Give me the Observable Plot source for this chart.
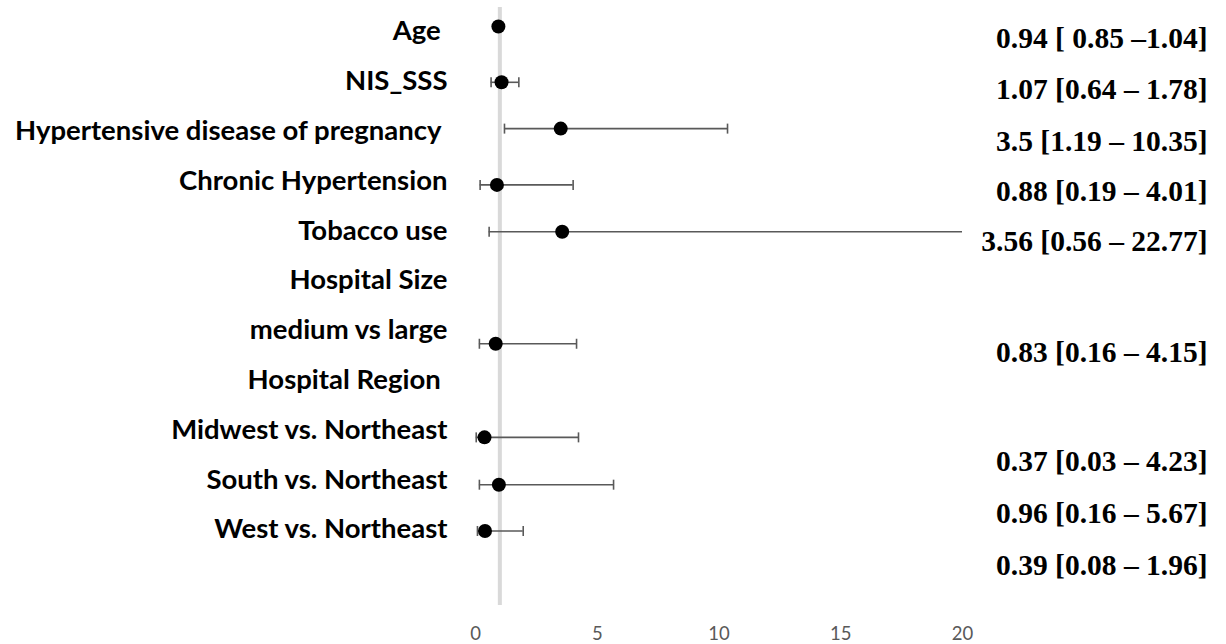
<!DOCTYPE html>
<html>
<head>
<meta charset="utf-8">
<script src="https://cdn.jsdelivr.net/npm/d3@7"></script>
<script src="https://cdn.jsdelivr.net/npm/@observablehq/plot@0.6"></script>
<style>
  html, body { margin: 0; padding: 0; background: #ffffff; }
  #chart { width: 1226px; height: 644px; }
</style>
</head>
<body>
<div id="chart"></div>
<script>
// Row labels (left side), top to bottom
const rowLabels = [
  "Age\u00a0",
  "NIS_SSS",
  "Hypertensive disease of pregnancy\u00a0",
  "Chronic Hypertension",
  "Tobacco use",
  "Hospital Size",
  "medium vs large",
  "Hospital Region\u00a0",
  "Midwest vs. Northeast",
  "South vs. Northeast",
  "West vs. Northeast"
];

// Odds ratios and 95% CI
const pointNames = ["Age", "NIS_SSS", "Hypertensive disease of pregnancy", "Chronic Hypertension",
  "Tobacco use", "medium vs large", "Midwest vs. Northeast", "South vs. Northeast", "West vs. Northeast"];
const oddsRatio = [0.94, 1.07, 3.5, 0.88, 3.56, 0.83, 0.37, 0.96, 0.39];
const ciLower   = [0.85, 0.64, 1.19, 0.19, 0.56, 0.16, 0.03, 0.16, 0.08];
const ciUpper   = [1.04, 1.78, 10.35, 4.01, 22.77, 4.15, 4.23, 5.67, 1.96];
// vertical position of each point (row units, as plotted in the source scatter)
const pointRow  = [-0.1, 1.02, 1.95, 3.08, 4.02, 6.27, 8.15, 9.1, 10.03];

// Right-hand text column
const ciText = [
  "0.94 [ 0.85 \u20131.04]",
  "1.07 [0.64 \u2013 1.78]",
  "3.5 [1.19 \u2013 10.35]",
  "0.88 [0.19 \u2013 4.01]",
  "3.56 [0.56 \u2013 22.77]",
  "0.83 [0.16 \u2013 4.15]",
  "0.37 [0.03 \u2013 4.23]",
  "0.96 [0.16 \u2013 5.67]",
  "0.39 [0.08 \u2013 1.96]"
];
const ciTextRow = [0.14, 1.16, 2.21, 3.22, 4.21, 6.45, 8.63, 9.68, 10.72];

const xTicks = [0, 5, 10, 15, 20];
const referenceValue = [1];

const points = pointNames.map((name, i) => ({
  name, or: oddsRatio[i], lo: ciLower[i], hi: ciUpper[i], row: pointRow[i]
}));
const capData = points.flatMap(d => [{x: d.lo, row: d.row}, {x: d.hi, row: d.row}]);
const textData = ciText.map((t, i) => ({t, row: ciTextRow[i]}));

const capSymbol = {
  draw(context, size) {
    const h = Math.sqrt(size / Math.PI);
    context.moveTo(0, -h);
    context.lineTo(0, h);
  }
};

const chart = Plot.plot({
  width: 1226,
  height: 644,
  marginLeft: 475,
  marginRight: 264,
  marginTop: 7,
  marginBottom: 39,
  style: {background: "#ffffff", color: "#000000", fontFamily: "Lato, sans-serif"},
  x: {domain: [0, 20], axis: null},
  y: {domain: [11.526, -0.482], axis: null},
  marks: [
    Plot.ruleX(referenceValue, {x: d => d, stroke: "#d9d9d9", strokeWidth: 4}),
    Plot.ruleY(points, {x1: "lo", x2: "hi", y: "row", stroke: "#595959", strokeWidth: 1.6, clip: true}),
    Plot.dot(capData, {x: "x", y: "row", symbol: capSymbol, r: 5, stroke: "#595959", strokeWidth: 1.6, fill: "none", clip: true}),
    Plot.dot(points, {x: "or", y: "row", r: 7, fill: "#000000", stroke: "none"}),
    Plot.axisY({
      ticks: d3.range(rowLabels.length),
      tickFormat: i => rowLabels[i],
      tickSize: 0,
      tickPadding: 28,
      fontSize: 27.5,
      fontWeight: "bold",
      fontFamily: "Lato, sans-serif",
      fill: "#000000",
      label: null
    }),
    Plot.axisX({
      ticks: xTicks,
      tickSize: 0,
      tickPadding: 21,
      fontSize: 18.5,
      fontFamily: "Lato, sans-serif",
      fill: "#595959",
      label: null
    }),
    Plot.text(textData, {
      y: "row",
      text: "t",
      frameAnchor: "right",
      dx: 245,
      textAnchor: "end",
      fontFamily: "'Liberation Serif', 'Times New Roman', serif",
      fontWeight: "bold",
      fontSize: 29.5,
      fill: "#000000"
    })
  ]
});

document.getElementById("chart").appendChild(chart);
</script>
</body>
</html>
